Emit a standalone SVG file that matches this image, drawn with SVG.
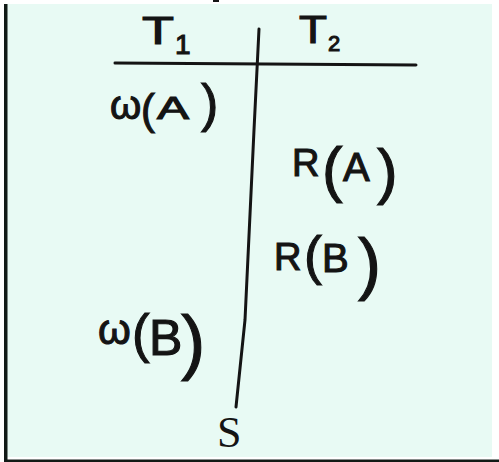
<svg xmlns="http://www.w3.org/2000/svg" width="499" height="462" viewBox="0 0 499 462">
  <style>
    .hw { font-family: "Liberation Sans", Arial, sans-serif; fill: #141414; stroke: #141414; stroke-width: 1.1; }
    .ser { font-family: "Liberation Serif", "Times New Roman", serif; fill: #141414; }
    .ln { stroke: #141414; stroke-width: 3; stroke-linecap: round; fill: none; }
  </style>
  <rect x="0" y="0" width="499" height="462" fill="#ffffff"/>
  <rect x="7" y="4" width="485" height="453" fill="#e8faf4"/>
  <rect x="4" y="4" width="3.5" height="458" fill="#111a16"/>
  <rect x="4" y="459.5" width="495" height="2.5" fill="#111a16"/>
  <rect x="213" y="0" width="6" height="2" fill="#141414"/>

  <g id="lines">
    <path class="ln" d="M115 63 L416 65"/>
    <path class="ln" d="M259 29 L254 130 L245 320 L236 407"/>
  </g>

  <g id="T1">
    <text class="hw"><tspan x="142" y="44" font-size="38" textLength="32" lengthAdjust="spacingAndGlyphs">T</tspan><tspan x="175" y="54" font-size="28">1</tspan></text>
  </g>
  <g id="T2">
    <text class="hw"><tspan x="299" y="43" font-size="38" textLength="28" lengthAdjust="spacingAndGlyphs">T</tspan><tspan x="328" y="51" font-size="22">2</tspan></text>
  </g>
  <g id="wA">
    <text class="hw"><tspan x="110" y="119" font-size="40">ω</tspan><tspan x="141" y="124" font-size="42">(</tspan><tspan x="157" y="119" font-size="32" textLength="32" lengthAdjust="spacingAndGlyphs">A</tspan><tspan x="190" y="121" font-size="20"> </tspan><tspan x="201" y="121" font-size="52">)</tspan></text>
  </g>
  <g id="RA">
    <text class="hw"><tspan x="292" y="176" font-size="38">R</tspan><tspan x="322" y="190" font-size="62">(</tspan><tspan x="343" y="181" font-size="40">A</tspan><tspan x="377" y="192" font-size="62">)</tspan></text>
  </g>
  <g id="RB">
    <text class="hw"><tspan x="274" y="270" font-size="38">R</tspan><tspan x="304" y="274" font-size="54">(</tspan><tspan x="322" y="272" font-size="40">B</tspan><tspan x="358" y="287" font-size="69">)</tspan></text>
  </g>
  <g id="wB">
    <text class="hw"><tspan x="98" y="344" font-size="42">ω</tspan><tspan x="132" y="352" font-size="53">(</tspan><tspan x="149" y="355" font-size="50">B</tspan><tspan x="181" y="366" font-size="73">)</tspan></text>
  </g>
  <g id="S">
    <text class="ser" x="217" y="447" font-size="44">S</text>
  </g>
</svg>
